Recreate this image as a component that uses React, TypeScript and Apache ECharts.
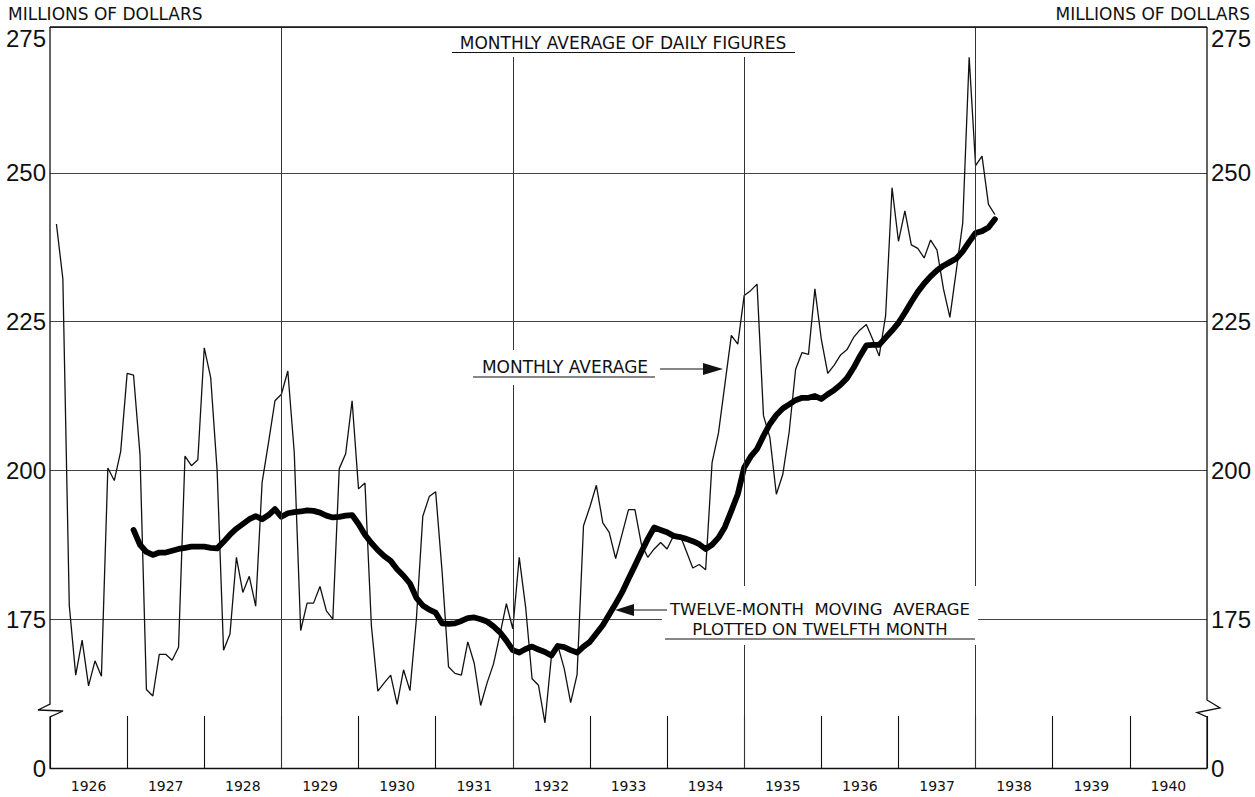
import React, { useEffect, useRef } from "react";
import * as echarts from "echarts";

// ---------- data ----------
const years = ["1926", "1927", "1928", "1929", "1930", "1931", "1932", "1933", "1934", "1935", "1936", "1937", "1938", "1939", "1940"];

// Monthly average of daily figures, Jan 1926 – Mar 1938 (millions of dollars)
const monthly1926 = [241.4, 232.2, 177.3, 165.6, 171.5, 163.8, 168.0, 165.4, 200.4, 198.3, 203.2, 216.3];
const monthly1927 = [216.0, 202.7, 163.2, 162.1, 169.1, 169.1, 168.1, 170.3, 202.4, 200.8, 201.8, 220.6];
const monthly1928 = [215.6, 200.0, 169.8, 172.5, 185.4, 179.5, 182.2, 177.2, 198.0, 204.7, 211.7, 212.8];
const monthly1929 = [216.7, 203.0, 173.1, 177.7, 177.7, 180.5, 176.4, 175.0, 200.3, 202.8, 211.7, 196.9];
const monthly1930 = [197.9, 173.9, 162.9, 164.3, 165.6, 160.7, 166.5, 163.0, 175.0, 192.3, 195.6, 196.4];
const monthly1931 = [183.0, 167.0, 165.9, 165.6, 171.2, 167.6, 160.5, 164.3, 167.5, 172.4, 177.6, 173.4];
const monthly1932 = [185.4, 177.0, 165.0, 163.9, 157.6, 168.7, 170.6, 166.7, 161.0, 165.7, 190.7, 193.9];
const monthly1933 = [197.5, 191.2, 189.6, 185.2, 189.3, 193.4, 193.4, 187.6, 185.4, 186.8, 187.9, 186.8];
const monthly1934 = [189.0, 189.2, 186.4, 183.6, 184.2, 183.3, 201.3, 206.3, 214.5, 222.7, 221.2, 229.4];
const monthly1935 = [230.2, 231.3, 209.2, 205.5, 196.0, 199.3, 206.5, 217.0, 219.8, 219.5, 230.5, 222.0];
const monthly1936 = [216.3, 217.7, 219.4, 220.3, 222.3, 223.6, 224.5, 222.0, 219.2, 226.0, 247.5, 238.5];
const monthly1937 = [243.6, 237.9, 237.3, 235.7, 238.7, 237.0, 230.5, 225.7, 233.6, 241.6, 269.4, 251.2];
const monthly1938 = [252.8, 244.7, 243.0];

// Twelve-month moving average plotted on twelfth month, Jan 1927 – Mar 1938
const moving1927 = [190.0, 187.5, 186.3, 185.8, 186.2, 186.2, 186.5, 186.8, 187.0, 187.2, 187.2, 187.2];
const moving1928 = [187.0, 186.9, 188.0, 189.2, 190.2, 191.0, 191.8, 192.3, 191.8, 192.5, 193.5, 192.2];
const moving1929 = [192.8, 193.0, 193.1, 193.3, 193.2, 192.9, 192.4, 192.1, 192.2, 192.4, 192.5, 191.0];
const moving1930 = [189.2, 187.8, 186.6, 185.6, 184.8, 183.4, 182.3, 181.0, 178.6, 177.3, 176.6, 176.1];
const moving1931 = [174.3, 174.2, 174.3, 174.7, 175.2, 175.3, 175.0, 174.6, 173.8, 172.8, 171.4, 169.8];
const moving1932 = [169.4, 170.0, 170.4, 169.9, 169.5, 168.9, 170.5, 170.3, 169.8, 169.4, 170.4, 171.2];
const moving1933 = [172.6, 174.0, 175.8, 177.6, 179.5, 181.8, 184.0, 186.3, 188.5, 190.4, 190.0, 189.6];
const moving1934 = [189.0, 188.8, 188.5, 188.1, 187.6, 186.8, 187.5, 188.7, 190.5, 193.2, 196.0, 200.5];
const moving1935 = [202.3, 203.6, 205.8, 207.8, 209.3, 210.4, 211.1, 211.8, 212.2, 212.2, 212.5, 212.0];
const moving1936 = [212.8, 213.5, 214.4, 215.5, 217.2, 219.2, 221.0, 221.1, 221.1, 222.3, 223.5, 224.8];
const moving1937 = [226.5, 228.3, 230.0, 231.4, 232.6, 233.6, 234.4, 235.0, 235.6, 236.8, 238.4, 239.9];
const moving1938 = [240.2, 240.8, 242.2];

const monthlyAverage = [
  ...monthly1926, ...monthly1927, ...monthly1928, ...monthly1929, ...monthly1930, ...monthly1931,
  ...monthly1932, ...monthly1933, ...monthly1934, ...monthly1935, ...monthly1936, ...monthly1937, ...monthly1938,
];
const movingAverage = [
  ...moving1927, ...moving1928, ...moving1929, ...moving1930, ...moving1931, ...moving1932,
  ...moving1933, ...moving1934, ...moving1935, ...moving1936, ...moving1937, ...moving1938,
];
const MOVING_START_MONTH = 12; // Jan 1927
const fullGridYears = [3, 6, 9, 12]; // year boundaries with full-height rules (1929, 1932, 1935, 1938)

// ---------- layout ----------
const W = 1255;
const H = 797;
const GL = 50;
const GT = 27;
const GW = 1157;
const GH = 741;
const GR = GL + GW;
const GB = GT + GH;
const INK = "#111";
const LETTER = "'DejaVu Sans', 'Noto Sans', sans-serif";
const NUM = "'Liberation Sans', Arial, sans-serif";
const NUM_SIZE = 24;

export default function App() {
  const ref = useRef<HTMLDivElement>(null);

  useEffect(() => {
    if (!ref.current) return;
    const chart = echarts.init(ref.current, null, { renderer: "svg" });

    const thin = monthlyAverage.map((v, i) => [i + 1, v]);
    const thick = movingAverage.map((v, i) => [MOVING_START_MONTH + i + 1, v]);

    const labelFmt = (v: number) => (v === 150 ? "0" : v > 270 ? "" : String(v));

    const textStyle = (text: string, x: number, y: number, size: number, align = "center", font = LETTER) => ({
      type: "text",
      x,
      y,
      z: 100,
      silent: true,
      style: { text, fill: INK, font: `${size}px ${font}`, textAlign: align, textVerticalAlign: "middle" },
    });
    const line = (x1: number, y1: number, x2: number, y2: number, w = 1) => ({
      type: "line",
      z: 100,
      silent: true,
      shape: { x1, y1, x2, y2 },
      style: { stroke: INK, lineWidth: w },
    });
    const rect = (x: number, y: number, w: number, h: number) => ({
      type: "rect",
      z: 99,
      silent: true,
      shape: { x, y, width: w, height: h },
      style: { fill: "#fff" },
    });

    const option: any = {
      animation: false,
      backgroundColor: "#fff",
      grid: { left: GL, top: GT, width: GW, height: GH, containLabel: false },
      xAxis: [
        {
          type: "value",
          min: 0,
          max: 180,
          interval: 12,
          axisLine: { show: true, onZero: false, lineStyle: { color: INK, width: 1.3 } },
          axisTick: { show: true, inside: true, length: 52, lineStyle: { color: INK, width: 1.1 } },
          axisLabel: { show: false },
          splitLine: { show: false },
        },
        {
          type: "category",
          position: "bottom",
          data: years,
          boundaryGap: true,
          axisLine: { show: false },
          axisTick: { show: false },
          splitLine: { show: false },
          axisLabel: { color: INK, fontSize: 14, fontFamily: LETTER, margin: 11 },
        },
      ],
      yAxis: [
        {
          type: "value",
          position: "left",
          min: 150,
          max: 274.5,
          interval: 25,
          axisLine: { show: false },
          axisTick: { show: false },
          axisLabel: { formatter: labelFmt, color: INK, fontSize: NUM_SIZE, fontFamily: NUM, margin: 4 },
          splitLine: { show: true, lineStyle: { color: "#444", width: 1 } },
        },
        {
          type: "value",
          position: "right",
          min: 150,
          max: 274.5,
          interval: 25,
          axisLine: { show: false },
          axisTick: { show: false },
          axisLabel: { formatter: labelFmt, color: INK, fontSize: NUM_SIZE, fontFamily: NUM, margin: 4 },
          splitLine: { show: false },
        },
      ],
      series: [
        {
          name: "Monthly average",
          type: "line",
          xAxisIndex: 0,
          yAxisIndex: 0,
          data: thin,
          symbol: "none",
          z: 3,
          lineStyle: { color: INK, width: 1.3 },
          markLine: {
            silent: true,
            symbol: "none",
            label: { show: false },
            lineStyle: { color: "#333", width: 1, type: "solid" },
            data: fullGridYears.map((y) => ({ xAxis: y * 12 })),
          },
        },
        {
          name: "Twelve-month moving average",
          type: "line",
          xAxisIndex: 0,
          yAxisIndex: 0,
          data: thick,
          symbol: "none",
          z: 4,
          lineStyle: { color: "#000", width: 5.8, join: "round", cap: "round" },
        },
      ],
      graphic: {
        elements: [
          // axes with break marks
          {
            type: "polyline",
            z: 100,
            silent: true,
            shape: { points: [[GL, GT], [GL, 704], [38, 710], [63, 711], [GL, 717], [GL, GB]] },
            style: { stroke: INK, lineWidth: 1.3, fill: null },
          },
          {
            type: "polyline",
            z: 100,
            silent: true,
            shape: { points: [[GR, GT], [GR, 700], [1220, 708], [1197, 712.5], [GR, 717], [GR, GB]] },
            style: { stroke: INK, lineWidth: 1.3, fill: null },
          },
          line(GL, GT, GR, GT, 1.3),
          // unit headings
          textStyle("MILLIONS OF DOLLARS", 8, 14, 17, "left"),
          textStyle("MILLIONS OF DOLLARS", 1250, 14, 17, "right"),
          // top value labels
          textStyle("275", 46, 38, NUM_SIZE, "right", NUM),
          textStyle("275", 1211, 38, NUM_SIZE, "left", NUM),
          // title
          rect(446, 28, 356, 29),
          textStyle("MONTHLY AVERAGE OF DAILY FIGURES", 623, 42.5, 17),
          line(452, 52.5, 795, 52.5, 1.1),
          // monthly average annotation
          rect(468, 350, 192, 35),
          textStyle("MONTHLY AVERAGE", 565, 367, 17),
          line(473, 377, 655, 377, 1.1),
          line(660, 369, 705, 369, 1.1),
          {
            type: "polygon",
            z: 100,
            silent: true,
            shape: { points: [[703, 363], [723, 369], [703, 375]] },
            style: { fill: INK },
          },
          // moving average annotation
          rect(662, 586, 316, 59),
          textStyle("TWELVE-MONTH  MOVING  AVERAGE", 820, 609.5, 16.5),
          textStyle("PLOTTED ON TWELFTH MONTH", 820, 629.5, 16.5),
          line(665, 639, 975, 639, 1.1),
          line(632, 610, 667, 610, 1.1),
          {
            type: "polygon",
            z: 100,
            silent: true,
            shape: { points: [[634, 604], [615, 610], [634, 616]] },
            style: { fill: INK },
          },
        ],
      },
    };

    chart.setOption(option);
    return () => chart.dispose();
  }, []);

  return (
    <div
      ref={ref}
      style={{ position: "fixed", left: 0, top: 0, width: W, height: H, background: "#fff" }}
    />
  );
}
